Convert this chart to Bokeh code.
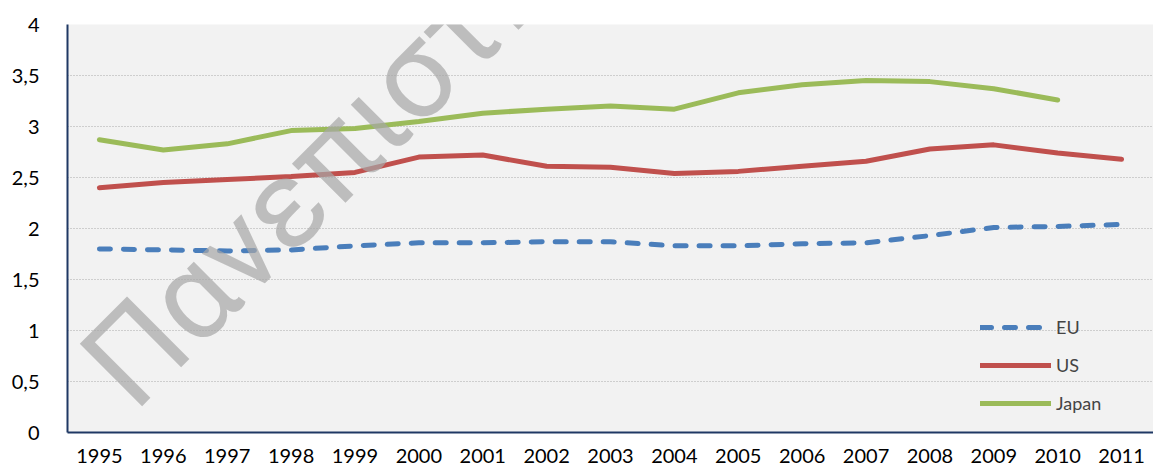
from bokeh.plotting import figure
from bokeh.models import ColumnDataSource, Range1d, Legend, LegendItem, Label, FixedTicker
from bokeh.embed import file_html
from bokeh.resources import INLINE

years = [str(y) for y in range(1995, 2012)]
eu = [1.80, 1.79, 1.78, 1.79, 1.83, 1.86, 1.86, 1.87, 1.87, 1.83, 1.83, 1.85, 1.86, 1.93, 2.01, 2.02, 2.04]
us = [2.40, 2.45, 2.48, 2.51, 2.55, 2.70, 2.72, 2.61, 2.60, 2.54, 2.56, 2.61, 2.66, 2.78, 2.82, 2.74, 2.68]
japan = [2.87, 2.77, 2.83, 2.96, 2.98, 3.05, 3.13, 3.17, 3.20, 3.17, 3.33, 3.41, 3.45, 3.44, 3.37, 3.26, float("nan")]
y_ticks = [0, 0.5, 1, 1.5, 2, 2.5, 3, 3.5, 4]
y_tick_labels = ["0", "0,5", "1", "1,5", "2", "2,5", "3", "3,5", "4"]
watermark = "Πανεπιστήμιο"

FONT = "Lato"

src = ColumnDataSource(dict(year=years, eu=eu, us=us, japan=japan))

p = figure(x_range=years, y_range=Range1d(0, 4), width=1153, height=466,
           output_backend="svg", toolbar_location=None,
           min_border_left=67, min_border_right=0, min_border_top=24, min_border_bottom=34)
p.background_fill_color = "#f2f2f2"
p.border_fill_color = "white"
p.outline_line_color = None

r_eu = p.line("year", "eu", source=src, line_color="#4a7ebb", line_width=5,
              line_dash="11 13", line_cap="round")
r_us = p.line("year", "us", source=src, line_color="#c0504d", line_width=5, line_cap="round")
r_jp = p.line("year", "japan", source=src, line_color="#9bbb59", line_width=5, line_cap="round")

p.xgrid.grid_line_color = None
p.ygrid.grid_line_color = "#ababab"
p.ygrid.grid_line_dash = "1 2"
p.ygrid.grid_line_width = 1
p.yaxis.ticker = FixedTicker(ticks=y_ticks)
p.yaxis.major_label_overrides = {t: l for t, l in zip(y_ticks, y_tick_labels)}

for ax in (p.xaxis[0], p.yaxis[0]):
    ax.axis_line_color = "#1f3864"
    ax.axis_line_width = 2
    ax.major_tick_line_color = None
    ax.minor_tick_line_color = None
    ax.major_label_text_font = FONT
    ax.major_label_text_font_size = "20px"
    ax.major_label_text_color = "black"
p.xaxis.major_label_standoff = 10
p.yaxis.major_label_standoff = 22

legend = Legend(items=[LegendItem(label="EU", renderers=[r_eu]),
                       LegendItem(label="US", renderers=[r_us]),
                       LegendItem(label="Japan", renderers=[r_jp])],
                location=(913, 18), orientation="vertical",
                glyph_width=71, glyph_height=20, label_standoff=5, spacing=16,
                padding=0, margin=0, border_line_color=None, background_fill_alpha=0,
                label_text_font=FONT, label_text_font_size="18px")
p.add_layout(legend, "center")

wm = Label(x=0.579, y=0.479, text=watermark, angle=45, angle_units="deg",
           text_font="Roboto", text_font_size="124px", text_color="#a6a6a6",
           text_alpha=0.7, text_baseline="alphabetic", text_align="left")
p.add_layout(wm)

open("out.html", "w").write(file_html(p, INLINE))
